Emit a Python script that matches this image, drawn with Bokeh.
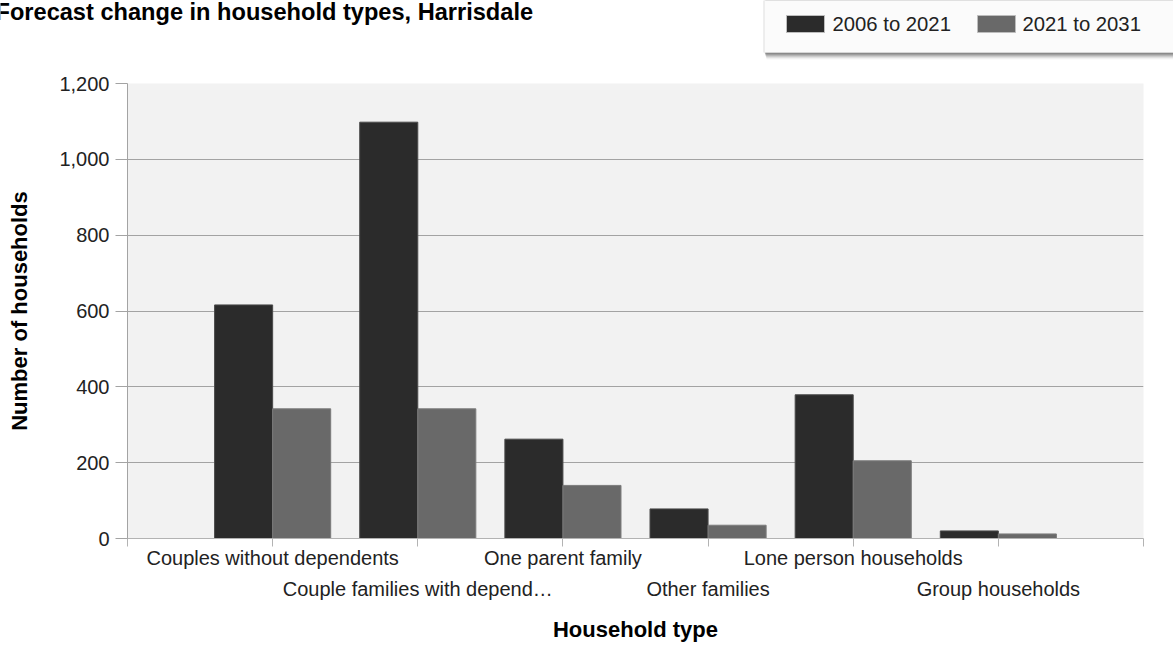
from bokeh.plotting import figure
from bokeh.layouts import column
from bokeh.models import (ColumnDataSource, Range1d, FixedTicker, NumeralTickFormatter,
                          Label, BoxAnnotation, Plot)
from bokeh.core.properties import value
from bokeh.transform import dodge
from bokeh.embed import file_html
from bokeh.resources import INLINE

# Forecast change in the number of households by type
categories = [
    "Couples without dependents",
    "Couple families with depend\u2026",
    "One parent family",
    "Other families",
    "Lone person households",
    "Group households",
]
change_2006_2021 = [616, 1098, 262, 78, 379, 20]
change_2021_2031 = [342, 342, 140, 35, 205, 12]
y_ticks = [0, 200, 400, 600, 800, 1000, 1200]

series_names = ["2006 to 2021", "2021 to 2031"]
colors = ["#2b2b2b", "#696969"]

FONT = "Liberation Sans"
W, H = 1173, 648
HEAD_H = 70


def hy(v):
    """Header y position measured from the top edge."""
    return HEAD_H - v


# ---------------------------------------------------------------- header
head = figure(
    width=W, height=HEAD_H,
    x_range=Range1d(0, W), y_range=Range1d(0, HEAD_H),
    x_axis_type=None, y_axis_type=None,
    output_backend="svg", toolbar_location=None,
    min_border=0, outline_line_color=None,
    background_fill_color="white", border_fill_color="white",
)
if "frame_align" in Plot.properties():
    head.frame_align = False
head.xgrid.grid_line_color = None
head.ygrid.grid_line_color = None

head.add_layout(Label(x=-5, y=hy(11),
                      text="Forecast change in household types, Harrisdale",
                      text_font=FONT, text_font_style="bold", text_font_size="23.6px",
                      text_color="#000000", text_baseline="middle", text_align="left"))

# legend panel with a soft drop shadow underneath
for off, alpha in [(7, 0.05), (6, 0.09), (5, 0.14), (4, 0.2), (3, 0.27), (2, 0.34), (1, 0.4)]:
    head.add_layout(BoxAnnotation(left=764 + off * 0.3, right=W + 20,
                                  top=hy(-20), bottom=hy(52 + off),
                                  fill_color="#6a6a6a", fill_alpha=alpha,
                                  line_color=None, level="underlay"))
head.add_layout(BoxAnnotation(left=763, right=W + 20, top=hy(-20), bottom=hy(52),
                              fill_color="#dedede", fill_alpha=1.0,
                              line_color=None, level="underlay"))
head.add_layout(BoxAnnotation(left=764, right=W + 20, top=hy(-20), bottom=hy(52),
                              fill_color="#fbfbfb", fill_alpha=1.0,
                              line_color=None, level="underlay"))

legend_src = ColumnDataSource(dict(
    name=series_names,
    color=colors,
    sx=[786 + 19, 977 + 19],
    tx=[832, 1022],
    y=[hy(23.5), hy(23.5)],
))
head.rect(x="sx", y="y", width=38, height=17, fill_color="color",
          line_color="#bdbdbd", line_width=1, source=legend_src)
head.text(x="tx", y="y", text="name", text_font=value(FONT), text_font_size="20.3px",
          text_color="#222222", text_baseline="middle", text_align="left",
          source=legend_src)

# ---------------------------------------------------------------- chart
positions = list(range(1, len(categories) + 1))
source = ColumnDataSource(dict(
    pos=positions,
    cat=categories,
    a=change_2006_2021,
    b=change_2021_2031,
))

p = figure(
    width=W, height=H - HEAD_H,
    x_range=Range1d(0, len(categories) + 1),
    y_range=Range1d(y_ticks[0], y_ticks[-1]),
    output_backend="svg", toolbar_location=None,
    min_border_left=127, min_border_right=30,
    min_border_top=83 - HEAD_H, min_border_bottom=110,
    background_fill_color="#f2f2f2", border_fill_color="white",
    outline_line_color=None,
)

p.vbar(x=dodge("pos", -0.2, range=p.x_range), top="a", width=0.4, source=source,
       fill_color=colors[0], line_color="#4a4a4a", line_width=1)
p.vbar(x=dodge("pos", 0.2, range=p.x_range), top="b", width=0.4, source=source,
       fill_color=colors[1], line_color="#7c7c7c", line_width=1)

# grid
p.xgrid.grid_line_color = None
p.ygrid.ticker = FixedTicker(ticks=y_ticks)
p.ygrid.grid_line_color = "#a3a3a3"
p.ygrid.grid_line_width = 1

# y axis
yax = p.yaxis[0]
yax.ticker = FixedTicker(ticks=y_ticks)
yax.formatter = NumeralTickFormatter(format="0,0")
yax.axis_label = "Number of households"
yax.axis_label_text_font = FONT
yax.axis_label_text_font_style = "bold"
yax.axis_label_text_font_size = "22px"
yax.axis_label_text_color = "#000000"
yax.axis_label_standoff = 24
yax.major_label_text_font = FONT
yax.major_label_text_font_size = "20px"
yax.major_label_text_color = "#222222"
yax.major_label_standoff = 6
yax.major_tick_out = 12
yax.major_tick_in = 0
yax.minor_tick_out = 0
yax.minor_tick_in = 0
yax.major_tick_line_color = "#a3a3a3"
yax.axis_line_color = "#a3a3a3"

# x axis: ticks sit between slots, labels alternate on two rows
xax = p.xaxis[0]
xax.ticker = FixedTicker(ticks=list(range(0, len(categories) + 2)))
overrides = {0: "", len(categories) + 1: ""}
for i, c in enumerate(categories):
    overrides[positions[i]] = c if i % 2 == 0 else "\n" + c
xax.major_label_overrides = overrides
xax.major_label_text_font = FONT
xax.major_label_text_font_size = "20px"
xax.major_label_text_color = "#222222"
xax.major_label_text_line_height = 1.42
xax.major_label_standoff = 0
xax.major_tick_out = 8
xax.major_tick_in = 0
xax.minor_tick_out = 0
xax.minor_tick_in = 0
xax.major_tick_line_color = "#b3b3b3"
xax.axis_line_color = "#b3b3b3"
xax.axis_label = "Household type"
xax.axis_label_text_font = FONT
xax.axis_label_text_font_style = "bold"
xax.axis_label_text_font_size = "22px"
xax.axis_label_text_color = "#000000"
xax.axis_label_standoff = 14

layout = column(head, p, spacing=0)
open("out.html", "w").write(file_html(layout, INLINE))
